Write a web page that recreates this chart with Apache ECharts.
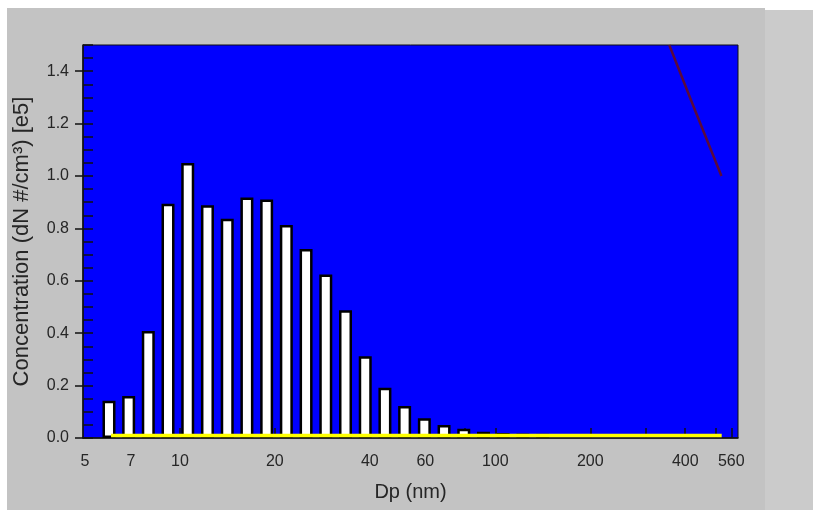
<!DOCTYPE html>
<html>
<head>
<meta charset="utf-8">
<script src="https://cdn.jsdelivr.net/npm/echarts@6.0.0/dist/echarts.min.js"></script>
<style>
  body { margin: 0; background: #ffffff; }
  #panel { position: absolute; left: 7px; top: 8px; width: 758px; height: 502px; background: #c3c3c3; }
  #side { position: absolute; left: 765px; top: 10px; width: 48px; height: 500px; background: #cbcbcb; }
  #chart { position: absolute; left: 0; top: 0; width: 813px; height: 510px; }
</style>
</head>
<body>
<div id="panel"></div>
<div id="side"></div>
<div id="chart"></div>
<script>
// particle diameter (nm) at bar centres, and concentration [e5 #/cm3]
var dp = [5.96, 6.88, 7.94, 9.17, 10.59, 12.23, 14.13, 16.31, 18.84, 21.75, 25.12, 29.01,
          33.5, 38.69, 44.67, 51.58, 59.57, 68.79, 79.43, 91.73, 105.9, 122.3, 141.3];
var conc = [0.142, 0.160, 0.408, 0.894, 1.05, 0.888, 0.837, 0.918, 0.910, 0.813, 0.721, 0.624,
            0.488, 0.312, 0.192, 0.122, 0.075, 0.050, 0.035, 0.024, 0.019, 0.017, 0.016];

// yellow fit line along the bottom
var fitDp = [6.05, 522];
var fitConc = [0.01, 0.01];

// dark red line top right
var redDp = [356, 430, 521];
var redConc = [1.5, 1.25, 1.0];

var xLabels = [5, 7, 10, 20, 40, 60, 100, 200, 400, 560];
var xTicks = [7, 10, 20, 30, 40, 50, 60, 80, 100, 200, 300, 400, 500, 560];
var yLabels = [0, 0.2, 0.4, 0.6, 0.8, 1.0, 1.2, 1.4];

var lg = function (v) { return Math.log10(v); };
var pairs = function (xs, ys) { return xs.map(function (x, i) { return [lg(x), ys[i]]; }); };

var chart = echarts.init(document.getElementById('chart'));
var txt = '#262626';

chart.setOption({
    animation: false,
    grid: {
        left: 83, top: 45, right: 75, bottom: 72,
        show: true, backgroundColor: '#0000fe', borderColor: '#111', borderWidth: 1
    },
    xAxis: {
        type: 'value',
        min: lg(4.93), max: lg(588),
        name: 'Dp (nm)', nameLocation: 'middle', nameGap: 44,
        nameTextStyle: { fontFamily: 'Liberation Sans', fontSize: 20, color: txt },
        axisLine: { lineStyle: { color: '#111', width: 1.5 } },
        axisTick: { inside: true, length: 10, customValues: xTicks.map(lg), lineStyle: { color: '#111', width: 1.5 } },
        axisLabel: {
            customValues: xLabels.map(lg), margin: 16,
            fontFamily: 'Liberation Sans', fontSize: 16, color: txt,
            formatter: function (v) { return String(Math.round(Math.pow(10, v))); }
        },
        splitLine: { show: false }
    },
    yAxis: [{
        type: 'value', min: 0, max: 1.5,
        name: 'Concentration (dN #/cm³) [e5]', nameLocation: 'middle', nameGap: 50,
        nameTextStyle: { fontFamily: 'Liberation Sans', fontSize: 22, color: txt },
        axisLine: { show: true, lineStyle: { color: '#111', width: 1.5 } },
        axisTick: { show: true, length: 8, customValues: yLabels, lineStyle: { color: '#111', width: 1.5 } },
        axisLabel: {
            customValues: yLabels,
            margin: 14, fontFamily: 'Liberation Sans', fontSize: 16, color: txt,
            formatter: function (v) { return v.toFixed(1); }
        },
        splitLine: { show: false }
    }, {
        type: 'value', min: 0, max: 1.5, interval: 0.05, position: 'left',
        axisLine: { show: false },
        axisTick: { show: true, inside: true, length: 10, lineStyle: { color: '#111', width: 1.5 } },
        axisLabel: { show: false },
        splitLine: { show: false }
    }],
    series: [{
        type: 'bar',
        data: pairs(dp, conc),
        barWidth: 13,
        itemStyle: { color: '#ffffff', borderColor: '#000', borderWidth: 2.5 }
    }, {
        type: 'line',
        data: pairs(fitDp, fitConc),
        symbol: 'none',
        lineStyle: { color: '#ffff00', width: 3.5 }
    }, {
        type: 'line',
        data: pairs(redDp, redConc),
        symbol: 'none',
        lineStyle: { color: '#5a0a3c', width: 2.5 }
    }]
});
</script>
</body>
</html>
